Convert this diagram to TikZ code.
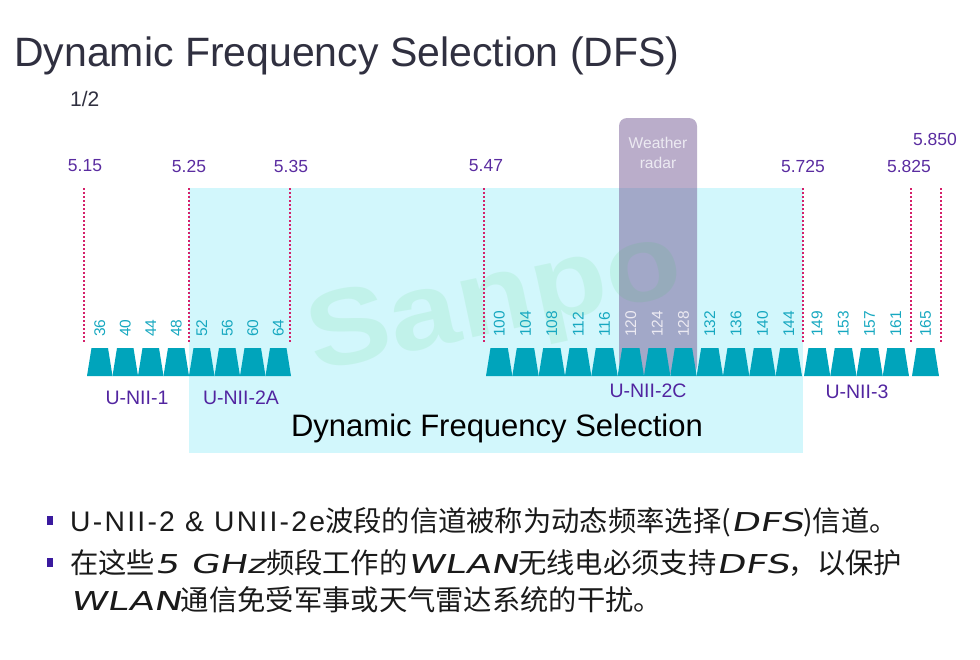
\documentclass[tikz,border=0pt]{standalone}
\usepackage{fontspec}
\setmainfont{Liberation Sans}
\newfontfamily\cjk{Noto Sans CJK SC}
\newfontfamily\latup[LetterSpace=8]{Liberation Sans}
\newfontfamily\latit[FakeSlant=0.2,FakeStretch=1.42]{DejaVu Sans}
\newcommand\latI[1]{{\latit\fontsize{26}{32}\selectfont #1}}
\newcommand\latU[1]{{\latup #1}}
\definecolor{freqpurple}{HTML}{5A2CA0}
\definecolor{bandpurple}{HTML}{5225A0}
\definecolor{chteal}{HTML}{17A8C0}
\definecolor{trapteal}{HTML}{00A4BB}
\definecolor{cyanbg}{HTML}{D2F7FC}
\definecolor{divred}{HTML}{D5206A}
\definecolor{bulletpurple}{HTML}{3A1A9E}
\definecolor{bodytext}{HTML}{1A1A1A}
\definecolor{titlegrey}{HTML}{303040}
\definecolor{radarfill}{HTML}{6D518F}
\definecolor{radartext}{HTML}{ECEAF2}
\definecolor{wmgreen}{HTML}{33CC4D}
\tikzset{
  freq/.style={text=freqpurple, font=\fontsize{17.5}{20}\selectfont, inner sep=0},
  chnum/.style={font=\fontsize{15.5}{18}\selectfont, rotate=90, anchor=west, inner sep=0},
  bandlabel/.style={text=bandpurple, font=\fontsize{19.5}{22}\selectfont, inner sep=0},
  divider/.style={draw=divred, line width=1.8pt, dash pattern=on 1.8pt off 2.2pt},
  trap/.style={fill=trapteal},
  bulletsq/.style={fill=bulletpurple, minimum width=6pt, minimum height=9pt, inner sep=0},
  bodyline/.style={anchor=base west, inner sep=0, text=bodytext, font=\cjk\fontsize{28.3}{32}\selectfont},
}
\begin{document}
\begin{tikzpicture}[x=1pt,y=-1pt]
\useasboundingbox (0,0) rectangle (980,659);
% DFS region
\fill[cyanbg] (189,188) rectangle (803,453);
% weather radar box
\fill[radarfill, opacity=0.47, rounded corners=8pt] (619,374) -- (619,118) -- (697,118) -- (697,374) -- cycle;
\node[text=radartext, align=center, font=\fontsize{15.6}{19.5}\selectfont, inner sep=0] (radar) at (658,153) {Weather\\radar};
% watermark
\node[rotate=12, xscale=1.15, text=wmgreen, opacity=0.1, font=\fontsize{108}{108}\bfseries\selectfont, inner sep=0] (wm) at (496,306) {Sanpo};
% title
\node[anchor=base west, inner sep=0, text=titlegrey, font=\fontsize{41}{48}\selectfont] (title) at (14,66) {Dynamic Frequency Selection (DFS)};
\node[anchor=base west, inner sep=0, text=titlegrey, font=\fontsize{21}{24}\selectfont] (page) at (70,106) {1/2};
% dividers
\foreach \x/\n in {84/a,189/b,290/c,484/d,803/e,911/f,941/g}{
  \coordinate (dt\n) at (\x,188);
  \coordinate (db\n) at (\x,343);
  \draw[divider] (dt\n) -- (db\n);
}
% frequency labels
\node[freq] (f515) at (85,166) {5.15};
\node[freq] (f525) at (189,166) {5.25};
\node[freq] (f535) at (291,166) {5.35};
\node[freq] (f547) at (486,166) {5.47};
\node[freq] (f5725) at (803,166) {5.725};
\node[freq] (f5825) at (909,166) {5.825};
\node[freq] (f5850) at (935,139) {5.850};
% channels group 1
\foreach \c [count=\i from 0] in {36,40,44,48,52,56,60,64}{
  \pgfmathsetmacro\l{87+\i*25.5}
  \pgfmathsetmacro\r{\l+25.5}
  \fill[trap] (\l,376) -- (\l+4.5,348) -- (\r-4.5,348) -- (\r,376) -- cycle;
  \node[chnum, text=chteal] (ch\c) at ({(\l+\r)/2},337) {\c};
}
% channels group 2
\foreach \c/\col [count=\i from 0] in {100/chteal,104/chteal,108/chteal,112/chteal,116/chteal,120/radartext,124/radartext,128/radartext,132/chteal,136/chteal,140/chteal,144/chteal}{
  \pgfmathsetmacro\l{486+\i*26.33}
  \pgfmathsetmacro\r{\l+26.33}
  \fill[trap] (\l,376) -- (\l+4.5,348) -- (\r-4.5,348) -- (\r,376) -- cycle;
  \node[chnum, text=\col] (ch\c) at ({(\l+\r)/2},337) {\c};
}
% channels group 3
\foreach \c [count=\i from 0] in {149,153,157,161}{
  \pgfmathsetmacro\l{804+\i*26.25}
  \pgfmathsetmacro\r{\l+26.25}
  \fill[trap] (\l,376) -- (\l+4.5,348) -- (\r-4.5,348) -- (\r,376) -- cycle;
  \node[chnum, text=chteal] (ch\c) at ({(\l+\r)/2},337) {\c};
}
% channel 165
\fill[trap] (912,376) -- (916.5,348) -- (934.5,348) -- (939,376) -- cycle;
\node[chnum, text=chteal] (ch165) at (925.5,337) {165};
% band labels
\node[bandlabel] (u1) at (137,398) {U-NII-1};
\node[bandlabel] (u2a) at (241,398) {U-NII-2A};
\node[bandlabel] (u2c) at (648,391) {U-NII-2C};
\node[bandlabel] (u3) at (857,392) {U-NII-3};
\node[inner sep=0, text=black, font=\fontsize{31}{36}\selectfont] (dfs) at (497,428) {Dynamic Frequency Selection};
% bullets
\node[bulletsq] (b1) at (50,520) {};
\node[bulletsq] (b2) at (50,562) {};
\node[bodyline] (l1) at (70,531) {\latU{U-NII-2 \& UNII-2e}波段的信道被称为动态频率选择(\latI{DFS})信道。};
\node[bodyline] (l2) at (70,573) {在这些\latI{5 GHz}频段工作的\latI{WLAN}无线电必须支持\latI{DFS}，以保护};
\node[bodyline] (l3) at (70,610) {\latI{WLAN}通信免受军事或天气雷达系统的干扰。};
\end{tikzpicture}
\end{document}
